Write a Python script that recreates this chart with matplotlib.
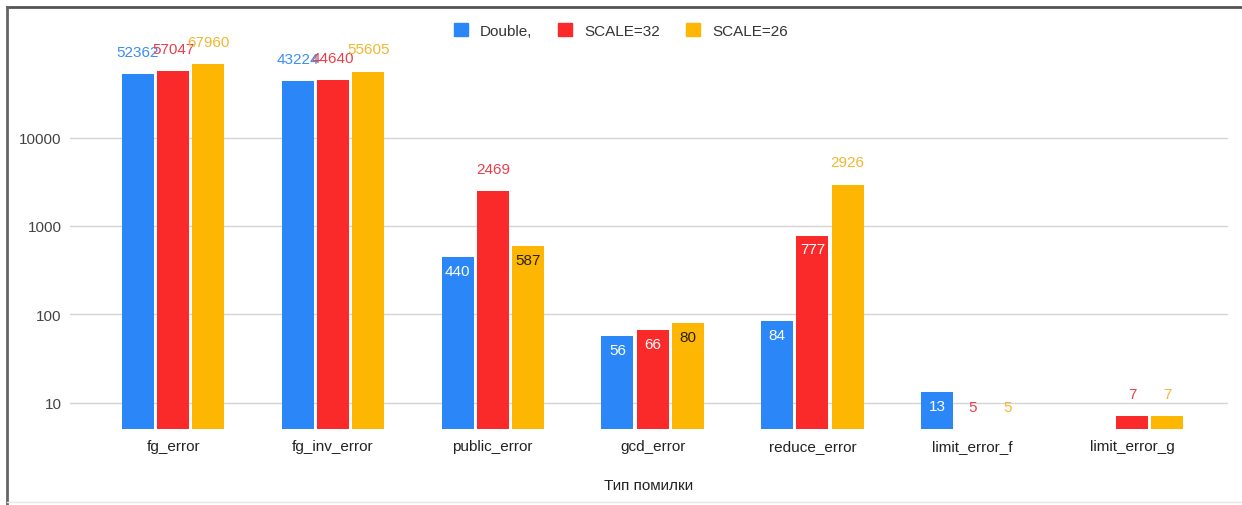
import numpy as np
import matplotlib.pyplot as plt
from matplotlib.lines import Line2D

plt.rcParams['font.family'] = ['Liberation Sans', 'DejaVu Sans']

categories = ['fg_error', 'fg_inv_error', 'public_error', 'gcd_error',
              'reduce_error', 'limit_error_f', 'limit_error_g']
series_names = ['Double,', 'SCALE=32', 'SCALE=26']
double_vals = [52362, 43224, 440, 56, 84, 13, None]
scale32_vals = [57047, 44640, 2469, 66, 777, 5, 7]
scale26_vals = [67960, 55605, 587, 80, 2926, 5, 7]

colors = ['#2b87f7', '#fb2a2a', '#fdb702']
outside_text = ['#3b8ef2', '#ea3f4a', '#f2b630']
inside_text = ['white', 'white', '#2a2000']

base = 5
fig = plt.figure(figsize=(12.42, 5.06), dpi=100)
ax = fig.add_axes([0.0564, 0.150, 0.9323, 0.741])
ax.set_yscale('log')
ax.set_ylim(base, 10 ** 4.944)
ax.set_xlim(-0.645, 6.6)

x = np.arange(len(categories))
width = 0.2
gap = 0.02
all_vals = [double_vals, scale32_vals, scale26_vals]

for i, vals in enumerate(all_vals):
    offs = (i - 1) * (width + gap)
    for j, v in enumerate(vals):
        if v is None:
            continue
        ax.bar(x[j] + offs, v - base, bottom=base, width=width,
               color=colors[i], zorder=3)
        label = str(v)
        # short labels on tall enough bars go inside the bar top
        if len(label) <= 3 and v >= 10:
            ax.annotate(label, (x[j] + offs, v), xytext=(0, -10),
                        textcoords='offset points', ha='center', va='center',
                        fontsize=11, color=inside_text[i], zorder=4)
        else:
            ax.annotate(label, (x[j] + offs, v), xytext=(0, 16),
                        textcoords='offset points', ha='center', va='center',
                        fontsize=11, color=outside_text[i], zorder=4,
                        annotation_clip=False)

ax.set_yticks([10, 100, 1000, 10000])
ax.set_yticklabels(['10', '100', '1000', '10000'])
ax.yaxis.set_minor_locator(plt.NullLocator())
ax.grid(axis='y', color='#d4d4d4', linewidth=1, zorder=0)
ax.tick_params(axis='y', length=0, pad=6, labelsize=11, labelcolor='#444444')
ax.set_xticks(x)
ax.set_xticklabels(categories)
ax.tick_params(axis='x', length=0, pad=7, labelsize=11, labelcolor='#222222')
for s in ax.spines.values():
    s.set_visible(False)

ax.set_xlabel('Тип помилки', fontsize=11, color='#222222', labelpad=18)

handles = [plt.Rectangle((0, 0), 1, 1, color=c) for c in colors]
fig.legend(handles, series_names, loc='center', ncol=3,
           bbox_to_anchor=(0.500, 0.938), frameon=False, fontsize=11,
           handlelength=0.9, handleheight=0.9, columnspacing=1.7,
           handletextpad=0.8, labelcolor='#333333')

# screenshot frame lines
fig.add_artist(Line2D([7 / 1242, 1], [1 - 8 / 506, 1 - 8 / 506],
                      transform=fig.transFigure, color='#555555', lw=2))
fig.add_artist(Line2D([7 / 1242, 7 / 1242], [0, 1 - 8 / 506],
                      transform=fig.transFigure, color='#666666', lw=2))
fig.add_artist(Line2D([7 / 1242, 1], [3 / 506, 3 / 506],
                      transform=fig.transFigure, color='#e6e6e6', lw=1))

fig.savefig('out.png', dpi=100)
